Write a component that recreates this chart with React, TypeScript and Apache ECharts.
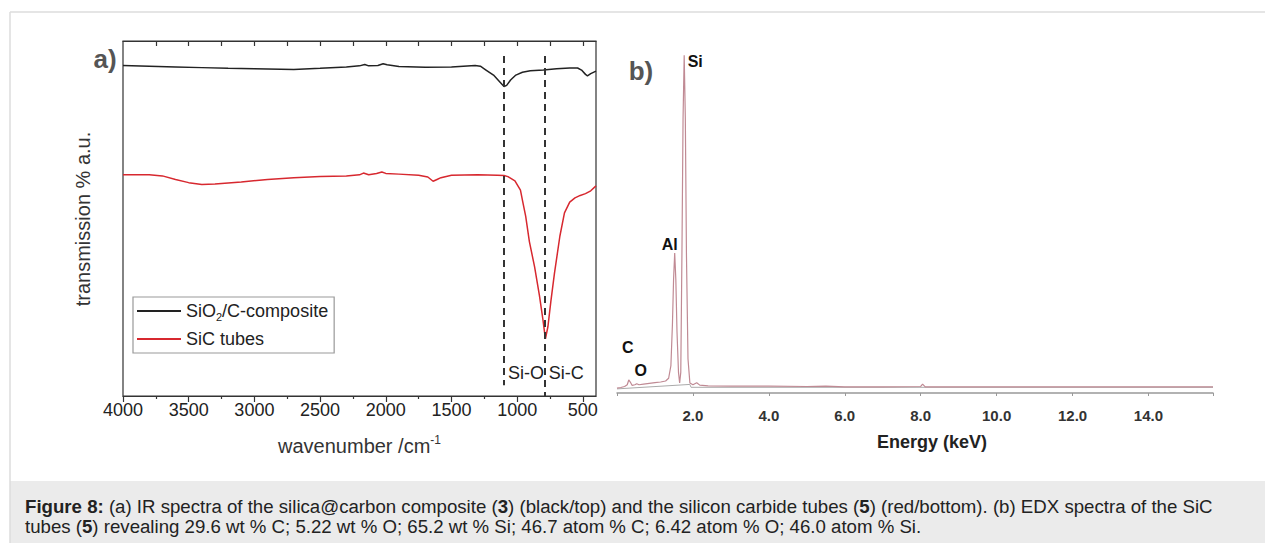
import { useEffect, useRef } from "react";
import * as echarts from "echarts";

const FONT = "'Liberation Sans', Arial, sans-serif";

// ---- (a) IR spectra ----
const irBlackWn = [4000, 3800, 3600, 3400, 3200, 3000, 2700, 2500, 2300, 2200, 2160, 2130, 2060, 2020, 1990, 1900, 1700, 1500, 1320, 1280, 1240, 1180, 1130, 1100, 1080, 1050, 1010, 960, 900, 800, 700, 600, 540, 510, 480, 465, 440, 400];
const irBlackT = [93.1, 92.9, 92.7, 92.5, 92.3, 92.2, 92.0, 92.3, 92.7, 93.0, 93.4, 93.0, 93.1, 93.6, 93.3, 92.8, 92.6, 92.7, 93.1, 92.9, 91.9, 90.4, 88.4, 87.2, 87.5, 89.0, 90.4, 91.2, 91.6, 91.8, 92.2, 92.4, 92.4, 91.8, 90.6, 90.2, 90.8, 91.5];

const irRedWn = [4000, 3800, 3700, 3600, 3500, 3400, 3300, 3100, 2900, 2700, 2500, 2300, 2200, 2170, 2130, 2070, 2030, 2000, 1900, 1750, 1680, 1640, 1610, 1580, 1500, 1300, 1150, 1100, 1070, 1017, 975, 957, 935, 907, 867, 831, 804, 785, 766, 744, 716, 675, 640, 600, 560, 520, 480, 440, 400];
const irRedT = [62.3, 62.3, 62.0, 61.0, 60.1, 59.6, 59.7, 60.3, 61.0, 61.5, 61.8, 62.0, 62.3, 62.8, 62.3, 62.7, 63.1, 62.7, 62.5, 62.2, 61.7, 60.5, 61.0, 61.5, 62.2, 62.3, 62.2, 62.1, 61.8, 60.6, 58.0, 54.6, 50.6, 43.5, 36.3, 28.4, 21.5, 16.1, 19.5, 26.5, 34.6, 45.0, 51.6, 54.6, 55.8, 56.5, 57.0, 57.8, 59.2];

const irTickLabels = [500, 1000, 1500, 2000, 2500, 3000, 3500, 4000];
const irMinorTicks = [750, 1250, 1750, 2250, 2750, 3250, 3750];
const irTopTicks = [500, 750, 1000, 1250, 1500, 1750, 2000, 2250, 2500, 2750, 3000, 3250, 3500, 3750];
const irBands = [
  { name: "Si-O", wn: 1100, top: 95.8, bottom: 3 },
  { name: "Si-C", wn: 790, top: 95.8, bottom: 0 },
];
const irSeriesNames = ["SiO2/C-composite", "SiC tubes"];

// ---- (b) EDX spectrum ----
const edxEnergy = [0.0, 0.1, 0.2, 0.27, 0.31, 0.35, 0.4, 0.47, 0.52, 0.58, 0.7, 0.85, 1.0, 1.15, 1.28, 1.36, 1.42, 1.46, 1.49, 1.52, 1.55, 1.58, 1.62, 1.65, 1.68, 1.71, 1.74, 1.77, 1.8, 1.83, 1.87, 1.92, 2.0, 2.1, 2.18, 2.4, 3.0, 4.0, 5.0, 5.5, 6.0, 7.0, 8.0, 8.05, 8.12, 9.0, 10.0, 11.0, 12.0, 13.0, 14.0, 15.0, 15.7];
const edxCounts = [1.4, 1.6, 1.9, 2.4, 3.8, 3.2, 2.2, 2.4, 2.7, 2.4, 2.6, 2.8, 3.0, 3.2, 3.5, 4.3, 8.0, 20, 33, 40.8, 33, 18, 6, 2.9, 6, 40, 80, 98.5, 80, 40, 10, 2.9, 2.4, 3.0, 2.3, 2.1, 2.0, 2.0, 1.9, 2.0, 1.8, 1.8, 1.9, 2.6, 1.8, 1.8, 1.8, 1.8, 1.8, 1.8, 1.8, 1.8, 1.8];
const edxBgEnergy = [0, 1.92, 1.95, 15.7];
const edxBgCounts = [1.2, 2.5, 1.66, 1.66];
const edxPeaks = [
  { name: "Si", e: 1.77, c: 98.5, offset: [11, 6] },
  { name: "Al", e: 1.52, c: 40.8, offset: [-5, -9] },
  { name: "C", e: 0.31, c: 3.8, offset: [-1, -32] },
  { name: "O", e: 0.52, c: 2.7, offset: [4, -13] },
];

const captionLine1 =
  "{b|Figure 8:} (a) IR spectra of the silica@carbon composite ({b|3}) (black/top) and the silicon carbide tubes ({b|5}) (red/bottom). (b) EDX spectra of the SiC";
const captionLine2 =
  "tubes ({b|5}) revealing 29.6 wt % C; 5.22 wt % O; 65.2 wt % Si; 46.7 atom % C; 6.42 atom % O; 46.0 atom % Si.";

const zip = (xs: number[], ys: number[]) => xs.map((x, i) => [x, ys[i]]);

export default function App() {
  const ref = useRef<HTMLDivElement>(null);

  useEffect(() => {
    const chart = echarts.init(ref.current!, null, { renderer: "svg" });

    const irAxisCommon = {
      type: "value" as const,
      gridIndex: 0,
      min: 400,
      max: 4000,
      inverse: true,
      splitLine: { show: false },
    };

    const option: any = {
      animation: false,
      backgroundColor: "#fff",
      textStyle: { fontFamily: FONT },
      grid: [
        { left: 123, top: 41, width: 473, height: 355, show: true, borderColor: "#333", borderWidth: 1.2, backgroundColor: "transparent" },
        { left: 617, top: 50, width: 596, height: 343, show: false },
      ],
      legend: {
        data: irSeriesNames,
        left: 133,
        top: 297,
        orient: "vertical",
        icon: "rect",
        itemWidth: 44,
        itemHeight: 2,
        itemGap: 6,
        padding: [3, 6, 3, 4],
        borderColor: "#999",
        borderWidth: 1.2,
        backgroundColor: "#fff",
        formatter: (name: string) => (name === "SiO2/C-composite" ? "SiO{sub|2}/C-composite" : name),
        textStyle: {
          fontSize: 18,
          fontFamily: FONT,
          color: "#222",
          lineHeight: 22,
          rich: {
            sub: { fontSize: 11, fontFamily: FONT, color: "#222", verticalAlign: "bottom", lineHeight: 13 },
          },
        },
      },
      xAxis: [
        {
          ...irAxisCommon,
          position: "bottom",
          name: "wavenumber /cm{sup|-1}",
          nameLocation: "middle",
          nameGap: 38,
          nameTextStyle: {
            fontSize: 20,
            fontFamily: FONT,
            color: "#333",
            lineHeight: 24,
            rich: { sup: { fontSize: 12, fontFamily: FONT, color: "#333", verticalAlign: "top", lineHeight: 12 } },
          },
          axisLine: { show: true, lineStyle: { color: "#333", width: 1.2 } },
          axisTick: { show: true, inside: false, length: 6, customValues: irTickLabels, lineStyle: { color: "#333", width: 1.2 } },
          axisLabel: {
            show: true,
            customValues: irTickLabels,
            fontSize: 18,
            color: "#222",
            margin: 5,
            fontFamily: FONT,
            formatter: (v: number) => String(Math.round(v)),
          },
        },
        {
          ...irAxisCommon,
          position: "bottom",
          axisLine: { show: false },
          axisTick: { show: true, inside: false, length: 3, customValues: irMinorTicks, lineStyle: { color: "#333", width: 1.2 } },
          axisLabel: { show: false },
        },
        {
          ...irAxisCommon,
          position: "top",
          axisLine: { show: true, lineStyle: { color: "#333", width: 1.2 } },
          axisTick: { show: true, inside: true, length: 5, customValues: irTopTicks, lineStyle: { color: "#333", width: 1.2 } },
          axisLabel: { show: false },
        },
        {
          type: "value",
          gridIndex: 1,
          min: 0,
          max: 15.7,
          interval: 2,
          position: "bottom",
          splitLine: { show: false },
          name: "Energy (keV)",
          nameLocation: "middle",
          nameGap: 40,
          nameTextStyle: { fontSize: 18, fontWeight: "bold", color: "#222", fontFamily: FONT, padding: [0, 0, 0, 34] },
          axisLine: { show: true, lineStyle: { color: "#999", width: 1.5 } },
          axisTick: { show: true, inside: false, length: 3, lineStyle: { color: "#999" } },
          axisLabel: {
            show: true,
            fontSize: 15,
            fontWeight: "bold",
            color: "#333",
            margin: 15,
            fontFamily: FONT,
            formatter: (v: number) => (v > 0 && v < 15 && Math.abs(v % 2) < 1e-6 ? v.toFixed(1) : ""),
          },
        },
      ],
      yAxis: [
        { type: "value", gridIndex: 0, min: 0, max: 100, show: false },
        { type: "value", gridIndex: 1, min: 0, max: 100, show: false },
      ],
      series: [
        {
          type: "line",
          name: irSeriesNames[0],
          xAxisIndex: 0,
          yAxisIndex: 0,
          data: zip(irBlackWn, irBlackT),
          showSymbol: false,
          symbol: "none",
          lineStyle: { color: "#222", width: 1.5 },
          itemStyle: { color: "#222" },
          z: 3,
          markLine: {
            silent: true,
            symbol: ["none", "none"],
            label: { show: false },
            lineStyle: { type: [7, 5], width: 2, color: "#333" },
            data: irBands.map((b) => [{ coord: [b.wn, b.top] }, { coord: [b.wn, b.bottom] }]),
          },
          markPoint: {
            silent: true,
            symbol: "circle",
            symbolSize: 0,
            label: { show: true, position: "right", distance: 4, formatter: "{b}", fontSize: 18, color: "#222", fontFamily: FONT },
            data: irBands.map((b) => ({ name: b.name, coord: [b.wn, 6.6] })),
          },
        },
        {
          type: "line",
          name: irSeriesNames[1],
          xAxisIndex: 0,
          yAxisIndex: 0,
          data: zip(irRedWn, irRedT),
          showSymbol: false,
          symbol: "none",
          lineStyle: { color: "#d7282f", width: 1.5 },
          itemStyle: { color: "#d7282f" },
          z: 2,
        },
        {
          type: "line",
          name: "EDX background",
          xAxisIndex: 3,
          yAxisIndex: 1,
          data: zip(edxBgEnergy, edxBgCounts),
          showSymbol: false,
          symbol: "none",
          lineStyle: { color: "#aaa", width: 1 },
          z: 1,
        },
        {
          type: "line",
          name: "EDX",
          xAxisIndex: 3,
          yAxisIndex: 1,
          data: zip(edxEnergy, edxCounts),
          showSymbol: false,
          symbol: "none",
          lineStyle: { color: "#c08a94", width: 1.2 },
          z: 2,
          markPoint: {
            silent: true,
            symbol: "circle",
            symbolSize: 0,
            label: { show: true, position: "inside", formatter: "{b}", fontSize: 16, fontWeight: "bold", color: "#111", fontFamily: FONT },
            data: edxPeaks.map((p) => ({ name: p.name, coord: [p.e, p.c], label: { offset: p.offset } })),
          },
        },
      ],
      graphic: [
        { type: "rect", z: -10, shape: { x: 10, y: 481, width: 1255, height: 62 }, style: { fill: "#ebebeb" } },
        { type: "line", shape: { x1: 10, y1: 12, x2: 1265, y2: 12 }, style: { stroke: "#dcdcdc", lineWidth: 1.5 } },
        { type: "line", shape: { x1: 10, y1: 12, x2: 10, y2: 543 }, style: { stroke: "#dcdcdc", lineWidth: 1.5 } },
        {
          type: "text",
          x: 25,
          y: 496,
          style: {
            text: captionLine1 + "\n" + captionLine2,
            fontSize: 18.65,
            fontFamily: FONT,
            fill: "#222",
            lineHeight: 20,
            verticalAlign: "top",
            rich: {
              b: { fontSize: 18.65, fontFamily: FONT, fontWeight: "bold", fill: "#222", lineHeight: 20 },
            },
          },
        },
        { type: "text", x: 105, y: 59, style: { text: "a)", fontSize: 26, fontWeight: "bold", fontFamily: FONT, fill: "#555", align: "center", verticalAlign: "middle" } },
        { type: "text", x: 641, y: 71, style: { text: "b)", fontSize: 26, fontWeight: "bold", fontFamily: FONT, fill: "#555", align: "center", verticalAlign: "middle" } },
        {
          type: "text",
          x: 83,
          y: 219,
          rotation: Math.PI / 2,
          style: { text: "transmission % a.u.", fontSize: 20, fontFamily: FONT, fill: "#333", align: "center", verticalAlign: "middle" },
        },
      ],
    };

    chart.setOption(option);
    return () => chart.dispose();
  }, []);

  return (
    <div
      ref={ref}
      style={{ position: "fixed", left: 0, top: 0, width: 1265, height: 543, background: "#fff" }}
    />
  );
}
